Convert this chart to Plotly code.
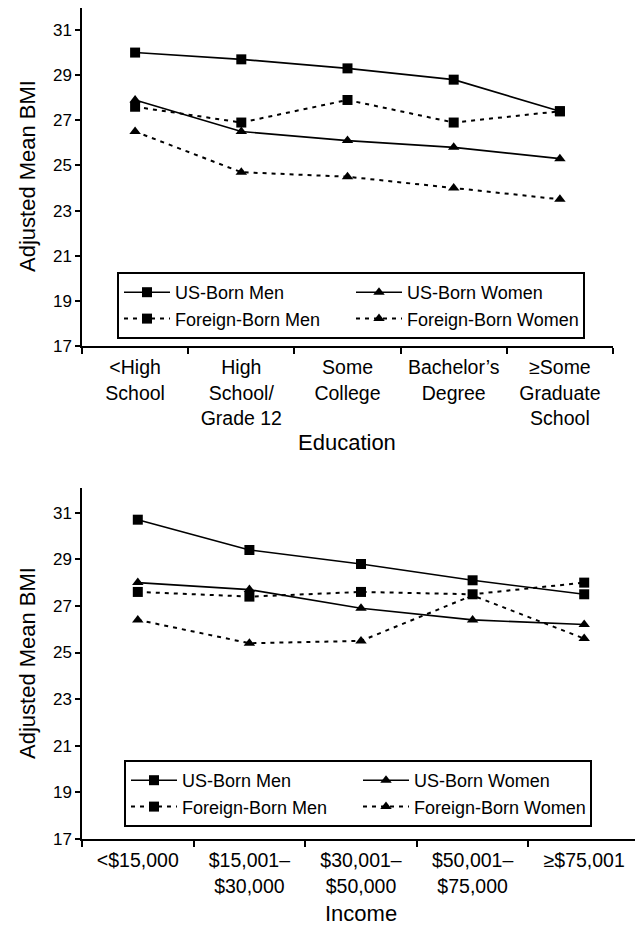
import plotly.graph_objects as go

# ---------------- data ----------------
edu_categories = ["<High<br>School", "High<br>School/<br>Grade 12", "Some<br>College",
                  "Bachelor’s<br>Degree", "≥Some<br>Graduate<br>School"]
edu_us_men = [30.0, 29.7, 29.3, 28.8, 27.4]
edu_us_women = [27.9, 26.5, 26.1, 25.8, 25.3]
edu_fb_men = [27.6, 26.9, 27.9, 26.9, 27.4]
edu_fb_women = [26.5, 24.7, 24.5, 24.0, 23.5]

inc_categories = ["<$15,000", "$15,001–<br>$30,000", "$30,001–<br>$50,000",
                  "$50,001–<br>$75,000", "≥$75,001"]
inc_us_men = [30.7, 29.4, 28.8, 28.1, 27.5]
inc_us_women = [28.0, 27.7, 26.9, 26.4, 26.2]
inc_fb_men = [27.6, 27.4, 27.6, 27.5, 28.0]
inc_fb_women = [26.4, 25.4, 25.5, 27.45, 25.6]

y_ticks = [17, 19, 21, 23, 25, 27, 29, 31]
series_names = ["US-Born Men", "US-Born Women", "Foreign-Born Men", "Foreign-Born Women"]

FONT = "Liberation Sans, Arial, sans-serif"
DOT = "4px,5px"

styles = [
    dict(dash="solid", symbol="square"),
    dict(dash="solid", symbol="triangle-up"),
    dict(dash=DOT, symbol="square"),
    dict(dash=DOT, symbol="triangle-up"),
]

fig = go.Figure()

def add_series(cats, values_list, xa, ya, legend):
    for name, vals, st in zip(series_names, values_list, styles):
        fig.add_trace(go.Scatter(
            x=cats, y=vals, name=name, mode="lines+markers",
            xaxis=xa, yaxis=ya, legend=legend,
            line=dict(color="black", width=1.6 if st["dash"] == "solid" else 2, dash=st["dash"]),
            marker=dict(symbol=st["symbol"], size=10, color="black"),
        ))

add_series(edu_categories, [edu_us_men, edu_us_women, edu_fb_men, edu_fb_women], "x", "y", "legend")
add_series(inc_categories, [inc_us_men, inc_us_women, inc_fb_men, inc_fb_women], "x2", "y2", "legend2")

# page is rendered with an 8px body margin -> work in page pixels, convert to figure pixels
OFF = 8
W, H = 643 - OFF, 926 - OFF
ml, mr, mt, mb = 82 - OFF, 3, 0, 926 - 839
pw = W - ml - mr
ph = H - mt - mb

def py(p):  # page y pixel -> paper y
    return (H - mb - (p - OFF)) / ph

def pxx(p):  # page x pixel -> paper x
    return ((p - OFF) - ml) / pw

# y ranges: top plot 31 at y=30, 17 at y=346 ; bottom 31 at 512.7, 17 at 839
top_top_page = OFF + mt
u1 = (346 - 30) / 14.0
y1_max = 31 + (30 - top_top_page) / u1
u2 = (839 - 512.7) / 14.0
y2_max = 31 + (512.7 - 488) / u2

xcommon = dict(type="category", range=[-0.5, 4.5], showline=True, linecolor="black", linewidth=1.5,
               ticks="outside", ticklen=6, tickcolor="black", tickwidth=1.5, tickson="boundaries",
               showgrid=False, zeroline=False, tickfont=dict(family=FONT, size=19.5, color="black"),
               ticklabelstandoff=3, fixedrange=True)
ycommon = dict(tickvals=y_ticks, showline=True, linecolor="black", linewidth=1.5,
               ticks="outside", ticklen=5, tickcolor="black", tickwidth=1.5, showgrid=False,
               zeroline=False, tickfont=dict(family=FONT, size=17, color="black"), fixedrange=True)

legcommon = dict(orientation="h", bgcolor="white", bordercolor="black", borderwidth=2,
                 font=dict(family=FONT, size=18, color="black"), xanchor="left", yanchor="top",
                 itemwidth=46, entrywidth=171, entrywidthmode="pixels",
                 itemclick=False, itemdoubleclick=False)

fig.update_layout(
    width=W, height=H, margin=dict(l=ml, r=mr, t=mt, b=mb, autoexpand=False),
    paper_bgcolor="white", plot_bgcolor="white",
    font=dict(family=FONT, color="black"),
    xaxis=dict(xcommon, domain=[0, pxx(613)], anchor="y"),
    yaxis=dict(ycommon, range=[17, y1_max], domain=[py(346), 1.0], anchor="x"),
    xaxis2=dict(xcommon, domain=[0, 1], anchor="y2"),
    yaxis2=dict(ycommon, range=[17, y2_max], domain=[0, py(488)], anchor="x2"),
    legend=dict(legcommon, x=pxx(117), y=py(272)),
    legend2=dict(legcommon, x=pxx(124), y=py(760)),
    showlegend=True,
)

annots = [
    dict(text="Education", x=pxx(347), y=py(442), xref="paper", yref="paper",
         showarrow=False, font=dict(family=FONT, size=22), xanchor="center", yanchor="middle"),
    dict(text="Income", x=pxx(361), y=py(913), xref="paper", yref="paper",
         showarrow=False, font=dict(family=FONT, size=22), xanchor="center", yanchor="middle"),
    dict(text="Adjusted Mean BMI", x=pxx(27), y=py(176), xref="paper", yref="paper",
         showarrow=False, textangle=-90, font=dict(family=FONT, size=22), xanchor="center", yanchor="middle"),
    dict(text="Adjusted Mean BMI", x=pxx(27), y=py(663), xref="paper", yref="paper",
         showarrow=False, textangle=-90, font=dict(family=FONT, size=22), xanchor="center", yanchor="middle"),
]
fig.update_layout(annotations=annots)

fig.write_html("out.html")
